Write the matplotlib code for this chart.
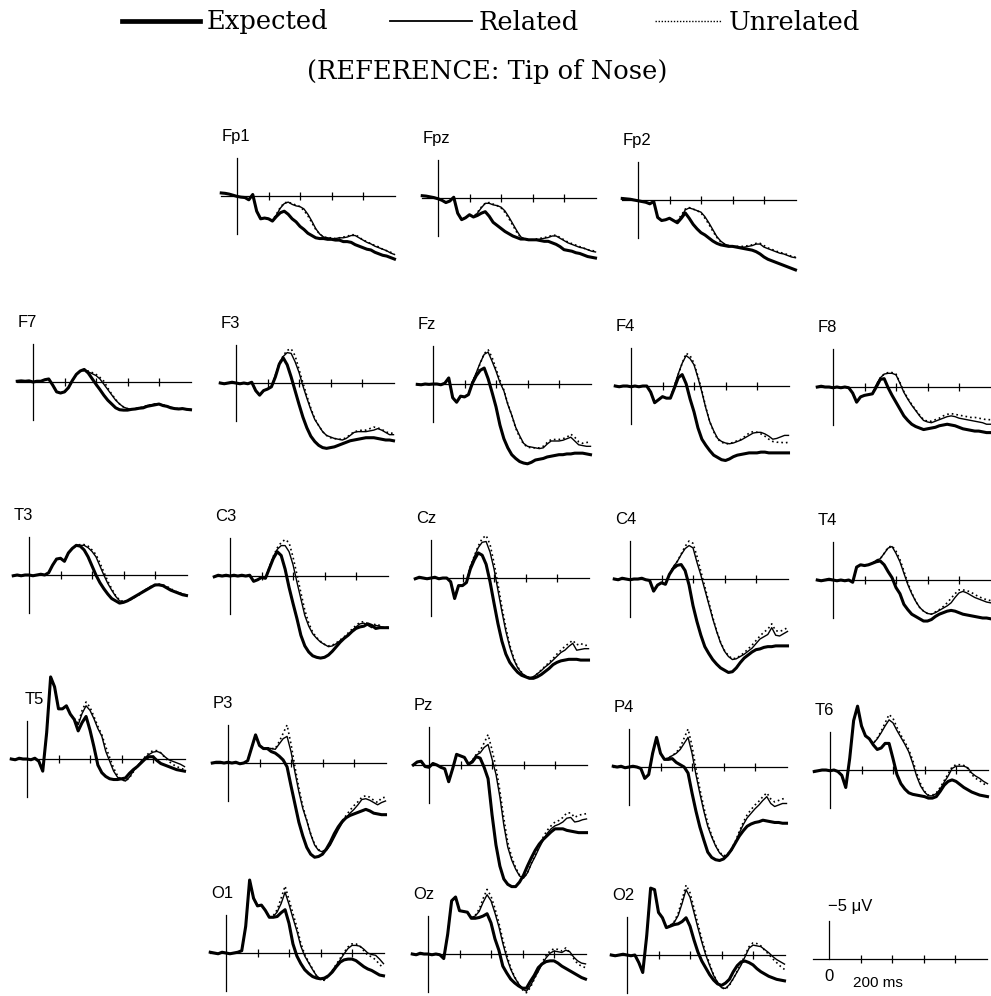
import matplotlib
matplotlib.use("Agg")
import matplotlib.pyplot as plt
from matplotlib.lines import Line2D

# sampling grid of the waveforms (ms after stimulus onset)
TIMES_MS = list(range(-100, 1001, 25))

# amplitudes in microvolts, negative plotted upward
FP1_EXP = [-0.4, -0.35, -0.25, -0.1, 0.05, 0.15, 0.2, 0.5, -0.2, 2.0,
           3.0, 2.9, 3.0, 3.3, 2.7, 2.2, 2.0, 2.4, 3.0, 3.4,
           4.0, 4.4, 4.9, 5.2, 5.5, 5.6, 5.6, 5.7, 5.7, 5.8,
           5.8, 6.0, 6.0, 6.1, 6.4, 6.6, 6.8, 7.0, 7.1, 7.4,
           7.6, 7.8, 7.9, 8.1, 8.3]
FP1_REL = [-0.4, -0.35, -0.25, -0.1, 0.05, 0.15, 0.2, 0.5, -0.2, 2.0,
           3.0, 2.9, 3.0, 3.2, 2.5, 1.6, 1.0, 0.8, 1.1, 1.3,
           1.4, 1.7, 2.4, 3.3, 4.3, 5.0, 5.4, 5.5, 5.6, 5.6,
           5.5, 5.5, 5.4, 5.2, 5.2, 5.5, 5.8, 6.1, 6.3, 6.6,
           6.8, 7.0, 7.2, 7.5, 7.7]
FP1_UNR = [-0.4, -0.3, -0.25, -0.1, 0.05, 0.15, 0.25, 0.45, -0.1, 2.0,
           3.0, 2.9, 3.0, 3.2, 2.4, 1.5, 0.9, 0.8, 1.0, 1.2,
           1.4, 1.9, 2.6, 3.5, 4.4, 5.0, 5.4, 5.5, 5.5, 5.6,
           5.5, 5.4, 5.3, 5.1, 5.1, 5.4, 5.8, 6.0, 6.3, 6.5,
           6.7, 7.0, 7.2, 7.4, 7.6]

FPZ_EXP = [-0.3, -0.25, -0.15, -0.05, 0.1, 0.3, 0.6, 0.4, -0.1, 2.0,
           2.85, 2.6, 2.2, 2.5, 2.3, 2.0, 1.8, 2.4, 3.2, 3.6,
           4.0, 4.4, 4.7, 5.0, 5.2, 5.4, 5.4, 5.5, 5.5, 5.5,
           5.6, 5.7, 5.7, 5.9, 6.1, 6.4, 6.8, 6.9, 7.0, 7.2,
           7.3, 7.5, 7.7, 7.8, 7.9]
FPZ_REL = [-0.3, -0.25, -0.15, -0.05, 0.1, 0.3, 0.6, 0.4, -0.1, 2.0,
           2.85, 2.6, 2.2, 2.5, 2.0, 1.3, 0.7, 0.7, 0.9, 1.0,
           1.2, 1.7, 2.5, 3.4, 4.3, 5.1, 5.4, 5.5, 5.5, 5.5,
           5.4, 5.3, 5.2, 5.0, 5.0, 5.3, 5.6, 5.9, 6.1, 6.3,
           6.5, 6.6, 6.8, 7.0, 7.1]
FPZ_UNR = [-0.3, -0.25, -0.15, -0.05, 0.1, 0.3, 0.6, 0.4, -0.1, 2.0,
           2.85, 2.6, 2.2, 2.5, 1.9, 1.2, 0.7, 0.6, 0.8, 1.0,
           1.3, 1.9, 2.7, 3.6, 4.5, 5.2, 5.4, 5.5, 5.5, 5.4,
           5.3, 5.2, 5.1, 4.9, 4.9, 5.2, 5.5, 5.8, 6.0, 6.2,
           6.4, 6.6, 6.8, 6.9, 7.0]

FP2_EXP = [-0.2, -0.15, -0.1, 0.0, 0.1, 0.2, 0.3, 0.5, 0.2, 2.3,
           2.7, 2.6, 2.4, 2.7, 3.0, 2.4, 1.7, 2.4, 3.2, 3.8,
           4.3, 4.6, 5.0, 5.4, 5.7, 5.9, 6.0, 6.1, 6.1, 6.2,
           6.3, 6.4, 6.5, 6.6, 6.8, 7.1, 7.5, 7.8, 8.0, 8.2,
           8.4, 8.6, 8.8, 9.0, 9.2]
FP2_REL = [-0.2, -0.15, -0.1, 0.0, 0.1, 0.2, 0.3, 0.5, 0.2, 2.3,
           2.7, 2.6, 2.4, 2.7, 2.8, 2.2, 1.3, 1.05, 1.2, 1.4,
           1.6, 2.2, 3.0, 3.9, 4.8, 5.4, 5.8, 6.0, 6.1, 6.1,
           6.2, 6.2, 6.1, 6.0, 5.8, 5.8, 6.2, 6.4, 6.6, 6.8,
           7.0, 7.1, 7.3, 7.5, 7.6]
FP2_UNR = [-0.2, -0.15, -0.1, 0.0, 0.1, 0.2, 0.3, 0.5, 0.2, 2.3,
           2.7, 2.6, 2.4, 2.7, 2.7, 2.0, 1.2, 1.0, 1.2, 1.4,
           1.7, 2.4, 3.2, 4.1, 4.9, 5.5, 5.8, 6.0, 6.1, 6.1,
           6.1, 6.1, 6.0, 5.9, 5.7, 5.7, 6.0, 6.3, 6.5, 6.7,
           6.9, 7.0, 7.2, 7.4, 7.5]

F7_EXP = [-0.1, -0.15, -0.1, -0.15, 0.0, -0.1, -0.1, -0.3, -0.4, 0.4,
          1.3, 1.45, 1.3, 0.75, -0.2, -1.0, -1.45, -1.65, -1.2, -0.45,
          0.3, 1.0, 1.75, 2.4, 2.9, 3.4, 3.65, 3.7, 3.7, 3.6,
          3.55, 3.45, 3.4, 3.2, 3.1, 3.0, 2.9, 3.1, 3.2, 3.4,
          3.5, 3.55, 3.5, 3.6, 3.65]
F7_REL = [-0.1, -0.15, -0.1, -0.15, 0.0, -0.1, -0.1, -0.3, -0.4, 0.4,
          1.3, 1.45, 1.3, 0.75, -0.2, -1.0, -1.45, -1.6, -1.35, -1.1,
          -0.85, -0.4, 0.3, 1.0, 1.7, 2.4, 2.9, 3.3, 3.5, 3.6,
          3.5, 3.4, 3.3, 3.1, 3.0, 2.9, 2.9, 3.0, 3.2, 3.3,
          3.5, 3.5, 3.5, 3.6, 3.6]
F7_UNR = [-0.1, -0.15, -0.1, -0.15, 0.0, -0.1, -0.1, -0.3, -0.4, 0.4,
          1.3, 1.45, 1.3, 0.75, -0.2, -1.0, -1.4, -1.5, -1.45, -1.25,
          -1.0, -0.6, -0.1, 0.8, 1.6, 2.3, 2.9, 3.3, 3.5, 3.6,
          3.5, 3.4, 3.3, 3.1, 3.0, 2.9, 2.9, 3.0, 3.2, 3.3,
          3.5, 3.5, 3.5, 3.6, 3.6]

F3_EXP = [0.0, 0.1, 0.0, -0.1, 0.0, 0.1, 0.0, 0.1, -0.1, 1.0,
          1.6, 1.0, 0.8, 0.5, -0.8, -2.5, -3.3, -2.4, -0.8, 1.0,
          2.8, 4.5, 5.9, 7.0, 7.7, 8.2, 8.5, 8.6, 8.5, 8.4,
          8.2, 8.0, 7.8, 7.6, 7.5, 7.4, 7.3, 7.2, 7.2, 7.2,
          7.3, 7.4, 7.5, 7.5, 7.6]
F3_REL = [0.0, 0.1, 0.0, -0.1, 0.0, 0.1, 0.0, 0.1, -0.1, 1.0,
          1.6, 1.0, 0.8, 0.5, -1.0, -2.6, -3.5, -4.0, -3.9, -2.8,
          -1.4, 0.4, 2.0, 3.5, 4.8, 5.6, 6.4, 6.9, 7.1, 7.3,
          7.4, 7.5, 7.3, 6.9, 6.5, 6.4, 6.4, 6.4, 6.3, 6.2,
          6.0, 6.2, 6.5, 6.8, 6.8]
F3_UNR = [0.0, 0.1, 0.0, -0.1, 0.0, 0.1, 0.0, 0.1, -0.1, 1.0,
          1.6, 1.0, 0.8, 0.5, -1.0, -2.6, -3.6, -4.3, -4.5, -3.6,
          -1.8, 0.0, 1.7, 3.3, 4.7, 5.6, 6.4, 6.9, 7.2, 7.3,
          7.4, 7.4, 7.2, 6.8, 6.4, 6.3, 6.2, 6.2, 6.0, 5.8,
          5.9, 6.1, 6.4, 6.6, 6.6]

FZ_EXP = [0.05, 0.1, 0.0, 0.05, 0.0, 0.0, 0.1, -0.1, -0.8, 1.8,
          2.4, 1.6, 1.7, 1.4, -0.1, -1.1, -1.8, -2.1, -0.7, 1.1,
          3.0, 5.4, 7.2, 8.4, 9.3, 9.8, 10.2, 10.4, 10.5, 10.3,
          10.0, 9.9, 9.8, 9.6, 9.5, 9.4, 9.3, 9.3, 9.2, 9.2,
          9.1, 9.1, 9.1, 9.2, 9.3]
FZ_REL = [0.05, 0.1, 0.0, 0.05, 0.0, 0.0, 0.1, -0.1, -0.8, 1.8,
          2.4, 1.6, 1.7, 1.4, -0.3, -1.5, -2.8, -3.9, -4.2, -3.0,
          -1.7, -0.2, 0.9, 2.7, 4.1, 5.7, 6.8, 7.8, 8.2, 8.3,
          8.4, 8.5, 8.4, 7.9, 7.5, 7.5, 7.5, 7.4, 7.2, 7.0,
          7.5, 8.0, 8.1, 8.2, 8.2]
FZ_UNR = [0.05, 0.1, 0.0, 0.05, 0.0, 0.0, 0.1, -0.1, -0.8, 1.8,
          2.4, 1.6, 1.7, 1.4, -0.3, -1.4, -2.7, -4.0, -4.5, -3.5,
          -2.0, -0.5, 0.8, 2.6, 4.1, 5.8, 7.0, 7.9, 8.3, 8.4,
          8.4, 8.4, 8.2, 7.7, 7.3, 7.3, 7.3, 7.2, 7.0, 6.6,
          7.0, 7.6, 7.8, 7.7, 7.6]

F4_EXP = [0.0, 0.1, 0.0, 0.0, 0.1, 0.0, 0.1, 0.0, 0.0, 0.8,
          2.2, 1.8, 1.4, 1.6, 1.6, 0.3, -1.1, -1.5, -0.3, 1.7,
          3.4, 5.5, 7.0, 7.8, 8.5, 9.1, 9.4, 9.7, 9.8, 9.6,
          9.3, 9.1, 9.0, 8.9, 8.8, 8.8, 8.8, 8.7, 8.7, 8.8,
          8.8, 8.8, 8.8, 8.8, 8.8]
F4_REL = [0.0, 0.1, 0.0, 0.0, 0.1, 0.0, 0.1, 0.0, 0.0, 0.8,
          2.2, 1.8, 1.4, 1.6, 1.6, 0.0, -1.6, -3.0, -4.0, -3.6,
          -2.8, -1.1, 0.8, 2.9, 4.7, 5.9, 6.9, 7.3, 7.5, 7.6,
          7.5, 7.3, 7.1, 6.8, 6.5, 6.2, 6.1, 6.1, 6.3, 6.6,
          7.0, 6.9, 6.7, 6.5, 6.5]
F4_UNR = [0.0, 0.1, 0.0, 0.0, 0.1, 0.0, 0.1, 0.0, 0.0, 0.8,
          2.2, 1.8, 1.4, 1.6, 1.6, 0.0, -1.5, -3.0, -4.3, -4.0,
          -3.0, -1.3, 0.6, 2.8, 4.7, 6.0, 7.0, 7.4, 7.6, 7.6,
          7.4, 7.2, 7.0, 6.6, 6.2, 6.0, 6.1, 6.3, 6.6, 7.0,
          7.3, 7.4, 7.4, 7.5, 7.4]

F8_EXP = [0.0, -0.1, 0.0, 0.0, 0.1, 0.0, 0.1, 0.0, 0.1, 0.8,
          2.0, 1.3, 1.1, 1.0, 0.9, 0.0, -1.0, -1.1, 0.1, 1.1,
          2.0, 2.9, 3.8, 4.4, 4.9, 5.2, 5.4, 5.6, 5.5, 5.4,
          5.3, 5.1, 5.0, 4.9, 5.0, 5.1, 5.3, 5.5, 5.6, 5.7,
          5.8, 5.8, 5.9, 6.0, 6.0]
F8_REL = [0.0, -0.1, 0.0, 0.0, 0.1, 0.0, 0.1, 0.0, 0.1, 0.8,
          2.0, 1.3, 1.1, 1.0, 0.9, -0.3, -1.2, -1.7, -1.8, -1.8,
          -1.6, -0.5, 0.7, 1.6, 2.4, 3.1, 3.8, 4.4, 4.6, 4.7,
          4.5, 4.3, 4.1, 3.9, 3.8, 3.9, 4.1, 4.2, 4.3, 4.4,
          4.5, 4.6, 4.7, 4.9, 4.9]
F8_UNR = [0.0, -0.1, 0.0, 0.0, 0.1, 0.0, 0.1, 0.0, 0.1, 0.8,
          2.0, 1.3, 1.1, 1.0, 0.9, -0.3, -1.2, -1.7, -1.9, -1.9,
          -1.7, -0.6, 0.6, 1.5, 2.3, 3.0, 3.7, 4.3, 4.5, 4.5,
          4.3, 4.1, 3.8, 3.6, 3.5, 3.6, 3.7, 3.8, 3.9, 4.0,
          4.0, 4.1, 4.2, 4.3, 4.3]

T3_EXP = [0.1, 0.0, 0.1, 0.0, 0.0, 0.1, 0.0, -0.1, 0.0, -0.3,
          -1.3, -2.1, -2.2, -1.8, -2.9, -3.5, -3.9, -3.8, -3.3, -2.4,
          -1.2, 0.0, 1.0, 1.8, 2.5, 3.1, 3.4, 3.7, 3.6, 3.4,
          3.1, 2.8, 2.5, 2.2, 1.9, 1.6, 1.3, 1.3, 1.4, 1.7,
          2.0, 2.2, 2.4, 2.6, 2.7]
T3_REL = [0.1, 0.0, 0.1, 0.0, 0.0, 0.1, 0.0, -0.1, 0.0, -0.3,
          -1.3, -2.1, -2.2, -1.8, -2.9, -3.5, -3.9, -3.9, -3.9, -3.6,
          -3.1, -2.4, -1.2, 0.0, 1.1, 2.0, 2.8, 3.4, 3.5, 3.4,
          3.2, 2.9, 2.5, 2.1, 1.8, 1.5, 1.4, 1.3, 1.4, 1.6,
          1.9, 2.2, 2.3, 2.5, 2.6]
T3_UNR = [0.1, 0.0, 0.1, 0.0, 0.0, 0.1, 0.0, -0.1, 0.0, -0.3,
          -1.3, -2.1, -2.2, -1.8, -2.9, -3.5, -3.9, -4.0, -4.0, -3.8,
          -3.3, -2.7, -1.6, -0.4, 0.8, 1.8, 2.7, 3.3, 3.5, 3.4,
          3.2, 2.9, 2.6, 2.2, 1.8, 1.5, 1.3, 1.2, 1.3, 1.5,
          1.8, 2.1, 2.3, 2.5, 2.7]

C3_EXP = [0.1, -0.1, 0.0, -0.1, 0.0, -0.1, 0.0, -0.1, 0.0, -0.1,
          0.7, 0.5, 0.2, 0.3, -1.0, -2.3, -3.2, -2.7, -0.9, 1.5,
          3.6, 5.6, 7.8, 9.2, 10.0, 10.5, 10.7, 10.8, 10.7, 10.4,
          9.9, 9.3, 8.7, 8.2, 7.8, 7.3, 6.9, 6.7, 6.6, 6.3,
          6.5, 6.9, 6.8, 6.8, 6.8]
C3_REL = [0.1, -0.1, 0.0, -0.1, 0.0, -0.1, 0.0, -0.1, 0.0, -0.1,
          0.7, 0.5, 0.2, 0.3, -1.2, -2.5, -3.5, -4.0, -4.0, -3.2,
          -1.5, 0.8, 3.0, 5.2, 6.6, 7.6, 8.2, 8.7, 9.0, 9.3,
          9.2, 8.9, 8.5, 8.1, 7.7, 7.2, 6.7, 6.3, 6.2, 6.5,
          6.8, 6.5, 6.6, 6.8, 6.8]
C3_UNR = [0.1, -0.1, 0.0, -0.1, 0.0, -0.1, 0.0, -0.1, 0.0, -0.1,
          0.7, 0.5, 0.2, 0.3, -1.2, -2.6, -3.7, -4.4, -4.8, -4.4,
          -2.5, -0.2, 2.2, 4.5, 6.2, 7.4, 8.1, 8.6, 9.0, 9.2,
          9.1, 8.8, 8.4, 8.0, 7.5, 7.0, 6.5, 6.1, 6.0, 6.3,
          6.6, 6.3, 6.5, 6.8, 6.7]

CZ_EXP = [0.1, -0.1, 0.0, 0.1, 0.0, -0.1, 0.1, 0.0, 0.0, 0.5,
          2.7, 1.0, 1.0, 0.6, -1.2, -2.4, -3.3, -3.0, -1.8, 0.5,
          3.3, 6.0, 8.3, 10.0, 11.1, 11.8, 12.4, 12.8, 13.0, 13.2,
          13.2, 13.0, 12.7, 12.3, 11.9, 11.4, 11.1, 10.9, 10.8, 10.7,
          10.7, 10.7, 10.8, 10.8, 10.8]
CZ_REL = [0.1, -0.1, 0.0, 0.1, 0.0, -0.1, 0.1, 0.0, 0.0, 0.5,
          2.7, 1.0, 1.0, 0.6, -1.5, -2.8, -4.0, -4.7, -4.8, -3.4,
          -1.2, 1.6, 4.4, 7.0, 9.1, 10.7, 11.8, 12.5, 12.9, 13.1,
          13.0, 12.6, 12.2, 11.7, 11.3, 10.8, 10.3, 9.8, 9.5, 9.0,
          8.6, 9.5, 9.4, 9.3, 9.3]
CZ_UNR = [0.1, -0.1, 0.0, 0.1, 0.0, -0.1, 0.1, 0.0, 0.0, 0.5,
          2.7, 1.0, 1.0, 0.6, -1.5, -2.9, -4.2, -5.2, -5.6, -4.4,
          -2.0, 0.8, 3.8, 6.5, 8.8, 10.5, 11.7, 12.4, 12.9, 13.1,
          13.0, 12.6, 12.1, 11.6, 11.1, 10.6, 10.0, 9.5, 9.0, 8.6,
          8.2, 8.8, 8.6, 8.9, 8.8]

C4_EXP = [0.0, 0.1, -0.1, 0.0, 0.1, 0.0, 0.0, -0.1, 0.1, 0.2,
          1.6, 0.8, 0.5, 0.7, -0.6, -1.4, -1.8, -1.9, -1.1, 0.8,
          3.5, 5.6, 7.4, 8.9, 9.8, 10.6, 11.2, 11.7, 12.0, 12.3,
          12.2, 11.7, 11.0, 10.4, 10.0, 9.6, 9.3, 9.2, 9.0, 8.9,
          8.9, 8.8, 8.8, 8.8, 8.8]
C4_REL = [0.0, 0.1, -0.1, 0.0, 0.1, 0.0, 0.0, -0.1, 0.1, 0.2,
          1.6, 0.8, 0.5, 0.7, -0.6, -1.6, -2.3, -3.2, -4.0, -4.4,
          -4.1, -2.2, -0.5, 1.4, 3.3, 5.2, 6.9, 8.4, 9.5, 10.2,
          10.6, 10.5, 10.2, 9.9, 9.5, 9.1, 8.5, 7.9, 7.6, 7.3,
          6.4, 7.4, 7.5, 7.2, 6.9]
C4_UNR = [0.0, 0.1, -0.1, 0.0, 0.1, 0.0, 0.0, -0.1, 0.1, 0.2,
          1.6, 0.8, 0.5, 0.7, -0.6, -1.6, -2.3, -3.3, -4.3, -5.0,
          -4.7, -3.0, -1.0, 1.0, 3.0, 5.0, 6.8, 8.3, 9.4, 10.1,
          10.5, 10.4, 10.1, 9.7, 9.2, 8.7, 8.1, 7.5, 7.0, 6.6,
          5.9, 6.8, 6.9, 6.7, 6.4]

T4_EXP = [0.0, 0.1, 0.0, -0.1, 0.0, 0.1, 0.0, 0.1, 0.0, 0.3,
          -1.7, -2.0, -1.9, -2.0, -2.2, -2.4, -2.5, -2.0, -1.1, -0.3,
          1.0, 1.8, 3.2, 3.9, 4.5, 4.8, 5.1, 5.4, 5.4, 5.2,
          4.8, 4.5, 4.3, 4.1, 4.0, 4.1, 4.3, 4.5, 4.6, 4.7,
          4.8, 4.9, 5.0, 5.0, 5.1]
T4_REL = [0.0, 0.1, 0.0, -0.1, 0.0, 0.1, 0.0, 0.1, 0.0, 0.3,
          -1.7, -2.0, -1.9, -2.0, -2.2, -2.6, -2.8, -3.5, -4.2, -4.4,
          -3.5, -2.4, -0.9, 0.6, 1.8, 2.8, 3.6, 4.1, 4.4, 4.5,
          4.3, 4.0, 3.7, 3.4, 3.0, 2.3, 1.7, 1.5, 1.7, 2.0,
          2.3, 2.5, 2.7, 2.9, 3.0]
T4_UNR = [0.0, 0.1, 0.0, -0.1, 0.0, 0.1, 0.0, 0.1, 0.0, 0.3,
          -1.7, -2.0, -1.9, -2.0, -2.2, -2.6, -2.8, -3.5, -4.3, -4.5,
          -3.8, -2.7, -1.2, 0.4, 1.7, 2.8, 3.6, 4.1, 4.4, 4.5,
          4.2, 3.9, 3.5, 3.0, 2.4, 1.8, 1.3, 1.3, 1.4, 1.6,
          1.9, 2.2, 2.4, 2.6, 2.7]

T5_EXP = [0.0, 0.1, -0.1, 0.0, 0.0, 0.1, -0.1, 0.3, 1.6, -3.5,
          -10.8, -9.5, -6.6, -6.6, -7.0, -5.9, -5.2, -3.7, -4.8, -5.6,
          -3.8, -1.6, 0.8, 1.8, 2.3, 2.6, 2.7, 2.7, 2.6, 2.5,
          1.9, 1.4, 1.0, 0.5, 0.0, -0.3, -0.3, 0.2, 0.6, 0.8,
          1.0, 1.2, 1.4, 1.5, 1.6]
T5_REL = [0.0, 0.1, -0.1, 0.0, 0.0, 0.1, -0.1, 0.3, 1.6, -3.5,
          -10.8, -9.5, -6.6, -6.6, -7.0, -5.9, -5.2, -4.5, -6.0, -7.0,
          -6.4, -5.3, -4.0, -3.0, -1.0, 0.3, 1.6, 2.4, 2.7, 2.9,
          2.4, 1.6, 1.0, 0.3, -0.2, -0.6, -0.9, -1.0, -0.8, -0.3,
          0.1, 0.3, 0.5, 0.7, 1.0]
T5_UNR = [0.0, 0.1, -0.1, 0.0, 0.0, 0.1, -0.1, 0.3, 1.6, -3.5,
          -10.8, -9.5, -6.6, -6.6, -7.0, -5.9, -5.3, -4.7, -6.4, -7.5,
          -6.8, -5.6, -4.3, -3.2, -1.6, -0.2, 1.2, 2.2, 2.7, 2.9,
          2.5, 1.7, 1.0, 0.3, -0.3, -0.8, -1.1, -1.1, -0.8, -0.2,
          0.3, 0.7, 1.0, 1.2, 1.4]

P3_EXP = [0.0, -0.1, -0.1, 0.0, -0.1, 0.0, -0.1, 0.1, 0.0, -0.3,
          -2.0, -3.7, -2.3, -1.9, -1.9, -1.5, -1.3, -0.9, -0.4, 0.5,
          3.0, 5.4, 7.8, 9.6, 11.1, 12.0, 12.4, 12.3, 12.0, 11.3,
          10.4, 9.3, 8.4, 7.7, 7.2, 6.9, 6.7, 6.5, 6.3, 6.1,
          6.3, 6.6, 6.7, 6.8, 6.8]
P3_REL = [0.0, -0.1, -0.1, 0.0, -0.1, 0.0, -0.1, 0.1, 0.0, -0.3,
          -2.0, -3.7, -2.3, -1.9, -2.0, -1.9, -1.8, -2.5, -3.2, -3.5,
          -1.5, 1.2, 3.8, 6.0, 7.6, 9.4, 10.8, 11.5, 11.7, 11.5,
          10.8, 9.8, 8.8, 7.9, 7.2, 6.6, 6.1, 5.5, 4.8, 4.7,
          4.9, 5.2, 5.5, 5.2, 5.0]
P3_UNR = [0.0, -0.1, -0.1, 0.0, -0.1, 0.0, -0.1, 0.1, 0.0, -0.3,
          -2.0, -3.7, -2.3, -1.9, -2.0, -1.9, -1.9, -2.8, -3.9, -5.0,
          -2.5, 0.5, 3.3, 5.7, 7.5, 9.3, 10.7, 11.4, 11.6, 11.4,
          10.6, 9.6, 8.6, 7.6, 6.9, 6.2, 5.6, 5.1, 4.5, 4.3,
          4.5, 4.9, 5.2, 4.6, 4.5]

PZ_EXP = [0.0, -0.4, -0.5, 0.2, 0.3, -0.2, 0.0, 0.3, 0.5, 2.2,
          0.5, -1.4, -1.2, -1.0, -0.1, -0.4, -1.1, -0.9, 0.3, 1.8,
          6.5, 10.5, 13.3, 15.0, 15.7, 16.0, 16.0, 15.4, 14.5, 13.3,
          12.2, 11.2, 10.4, 9.8, 9.3, 8.8, 8.4, 8.4, 8.4, 8.6,
          8.7, 8.8, 8.9, 8.9, 8.9]
PZ_REL = [0.0, -0.4, -0.5, 0.2, 0.3, -0.2, 0.0, 0.3, 0.5, 2.2,
          0.5, -1.4, -1.2, -1.0, -0.1, -0.6, -1.3, -1.6, -2.3, -2.7,
          -0.8, 1.2, 4.2, 7.9, 10.8, 12.5, 13.7, 14.6, 14.9, 14.2,
          13.0, 12.0, 10.9, 9.9, 9.0, 8.4, 8.0, 7.8, 7.5, 7.0,
          6.9, 7.5, 7.4, 7.2, 7.1]
PZ_UNR = [0.0, -0.4, -0.5, 0.2, 0.3, -0.2, 0.0, 0.3, 0.5, 2.2,
          0.5, -1.4, -1.2, -1.0, -0.1, -0.6, -1.4, -1.9, -2.9, -4.0,
          -2.0, 0.3, 3.4, 7.0, 10.2, 12.1, 13.5, 14.5, 14.9, 14.2,
          12.9, 11.8, 10.6, 9.5, 8.6, 8.0, 7.5, 7.3, 6.9, 6.3,
          6.3, 6.9, 6.6, 6.5, 6.4]

P4_EXP = [-0.1, 0.0, -0.1, 0.1, 0.0, -0.1, 0.0, 0.2, 1.5, 1.0,
          -1.8, -3.9, -1.8, -1.0, -1.0, -1.1, -0.6, -0.3, 0.0, 0.8,
          3.4, 5.8, 7.9, 9.6, 11.2, 11.9, 12.2, 12.3, 12.1, 11.6,
          10.9, 10.0, 9.1, 8.4, 7.8, 7.5, 7.3, 7.2, 7.0, 7.1,
          7.2, 7.3, 7.3, 7.4, 7.4]
P4_REL = [-0.1, 0.0, -0.1, 0.1, 0.0, -0.1, 0.0, 0.2, 1.5, 1.0,
          -1.8, -3.9, -1.8, -1.0, -1.2, -1.5, -1.8, -2.3, -3.1, -3.9,
          -1.8, 1.0, 3.5, 5.8, 7.8, 9.2, 10.4, 11.3, 11.8, 11.6,
          11.0, 10.0, 8.7, 7.6, 6.7, 6.1, 5.5, 5.0, 4.4, 3.9,
          4.8, 5.2, 5.0, 4.8, 4.8]
P4_UNR = [-0.1, 0.0, -0.1, 0.1, 0.0, -0.1, 0.0, 0.2, 1.5, 1.0,
          -1.8, -3.9, -1.8, -1.0, -1.2, -1.5, -1.9, -2.6, -3.8, -5.0,
          -2.8, 0.2, 2.9, 5.3, 7.4, 9.0, 10.3, 11.2, 11.7, 11.5,
          10.8, 9.8, 8.5, 7.3, 6.3, 5.6, 5.0, 4.5, 3.9, 3.4,
          4.2, 4.6, 4.4, 4.2, 4.1]

T6_EXP = [0.2, 0.1, 0.0, 0.0, 0.1, 0.0, 0.2, 0.7, 2.3, -1.5,
          -6.5, -8.4, -5.8, -4.5, -4.1, -3.3, -2.7, -2.9, -3.5, -3.5,
          -1.5, 0.6, 1.8, 2.5, 3.0, 3.2, 3.3, 3.4, 3.5, 3.7,
          3.7, 3.5, 2.8, 2.0, 1.5, 1.3, 1.5, 1.9, 2.3, 2.6,
          2.9, 3.1, 3.3, 3.4, 3.5]
T6_REL = [0.2, 0.1, 0.0, 0.0, 0.1, 0.0, 0.2, 0.7, 2.3, -1.5,
          -6.5, -8.4, -5.8, -4.5, -4.1, -3.5, -4.1, -4.9, -5.8, -6.6,
          -6.2, -5.2, -4.3, -3.4, -2.4, -0.9, 0.8, 2.1, 2.9, 3.4,
          3.4, 3.1, 2.5, 1.6, 0.8, -0.2, -0.5, -0.5, -0.5, -0.3,
          0.4, 0.8, 1.1, 1.5, 1.8]
T6_UNR = [0.2, 0.1, 0.0, 0.0, 0.1, 0.0, 0.2, 0.7, 2.3, -1.5,
          -6.5, -8.4, -5.8, -4.5, -4.1, -3.5, -4.2, -5.1, -6.2, -7.3,
          -6.8, -5.6, -4.6, -3.7, -2.7, -1.3, 0.4, 1.8, 2.8, 3.3,
          3.3, 3.0, 2.3, 1.4, 0.5, -0.4, -0.7, -0.7, -0.6, -0.2,
          0.6, 1.1, 1.4, 1.8, 2.1]

O1_EXP = [-0.1, 0.0, 0.1, -0.1, 0.0, 0.1, 0.0, -0.1, -0.3, -3.5,
          -9.6, -7.2, -6.2, -6.3, -5.6, -4.7, -4.7, -4.8, -5.3, -5.7,
          -3.9, -1.2, 0.4, 1.4, 2.2, 2.7, 3.1, 3.3, 3.4, 3.3,
          3.0, 2.5, 1.8, 1.2, 0.9, 0.8, 0.8, 1.0, 1.4, 1.8,
          2.1, 2.3, 2.6, 2.9, 3.0]
O1_REL = [-0.1, 0.0, 0.1, -0.1, 0.0, 0.1, 0.0, -0.1, -0.3, -3.5,
          -9.6, -7.2, -6.2, -6.3, -5.6, -4.7, -4.8, -5.4, -6.5, -8.0,
          -6.4, -4.6, -2.9, -0.9, 0.4, 1.3, 2.2, 3.0, 3.4, 3.5,
          3.0, 2.3, 1.6, 0.9, 0.1, -0.6, -1.0, -1.0, -0.9, -0.5,
          0.0, 0.2, 0.3, 0.8, 1.4]
O1_UNR = [-0.1, 0.0, 0.1, -0.1, 0.0, 0.1, 0.0, -0.1, -0.3, -3.5,
          -9.6, -7.2, -6.2, -6.3, -5.6, -4.7, -4.9, -5.7, -7.2, -8.8,
          -7.0, -5.2, -3.4, -1.3, 0.2, 1.2, 2.1, 3.0, 3.5, 3.6,
          3.1, 2.3, 1.5, 0.7, -0.1, -0.8, -1.2, -1.2, -0.9, -0.3,
          0.3, 0.5, 0.9, 1.5, 2.0]

OZ_EXP = [0.0, 0.1, -0.1, 0.0, 0.0, 0.1, 0.0, 0.1, 0.6, -2.6,
          -7.0, -7.5, -5.7, -5.6, -5.5, -4.7, -4.7, -4.8, -5.0, -5.3,
          -4.1, -2.0, -0.5, 1.6, 2.5, 3.3, 3.8, 4.2, 4.5, 4.5,
          3.6, 2.8, 1.8, 1.3, 1.0, 0.9, 0.9, 1.2, 1.6, 1.9,
          2.2, 2.5, 2.8, 3.1, 3.3]
OZ_REL = [0.0, 0.1, -0.1, 0.0, 0.0, 0.1, 0.0, 0.1, 0.6, -2.6,
          -7.0, -7.5, -5.7, -5.6, -5.5, -4.8, -5.0, -5.6, -6.8, -7.8,
          -7.0, -5.4, -3.6, -1.4, 0.5, 2.0, 3.1, 3.9, 4.6, 4.9,
          4.2, 3.2, 2.3, 1.3, 0.5, -0.1, -0.4, -0.3, -0.2, -0.5,
          -0.3, 0.4, 0.9, 1.2, 1.3]
OZ_UNR = [0.0, 0.1, -0.1, 0.0, 0.0, 0.1, 0.0, 0.1, 0.6, -2.6,
          -7.0, -7.5, -5.7, -5.6, -5.5, -4.8, -5.1, -5.9, -7.3, -8.5,
          -7.6, -6.0, -4.1, -1.9, 0.1, 1.8, 3.0, 3.9, 4.7, 5.1,
          4.4, 3.3, 2.2, 1.1, 0.2, -0.4, -0.7, -0.6, -0.4, -0.8,
          -0.2, 0.6, 1.3, 1.6, 1.8]

O2_EXP = [0.0, 0.1, 0.0, -0.1, 0.0, 0.1, 0.0, 1.0, 2.3, -2.5,
          -8.8, -8.6, -5.6, -4.9, -3.6, -3.8, -4.0, -4.1, -4.4, -4.9,
          -3.8, -2.0, -0.4, 0.8, 1.7, 2.6, 3.3, 3.8, 4.0, 3.7,
          3.2, 2.2, 1.4, 0.9, 0.8, 1.0, 1.3, 1.8, 2.2, 2.5,
          2.8, 3.0, 3.2, 3.3, 3.4]
O2_REL = [0.0, 0.1, 0.0, -0.1, 0.0, 0.1, 0.0, 1.0, 2.3, -2.5,
          -8.8, -8.6, -5.6, -4.9, -3.6, -3.9, -4.3, -5.2, -6.8, -8.6,
          -7.6, -5.6, -3.6, -1.7, 0.0, 1.4, 2.7, 3.6, 4.3, 4.4,
          3.9, 3.1, 2.2, 1.3, 0.2, -0.9, -1.3, -1.2, -1.1, -0.7,
          -0.3, 0.2, 0.6, 0.9, 1.2]
O2_UNR = [0.0, 0.1, 0.0, -0.1, 0.0, 0.1, 0.0, 1.0, 2.3, -2.5,
          -8.8, -8.6, -5.6, -4.9, -3.6, -3.9, -4.4, -5.5, -7.3, -9.2,
          -8.2, -6.2, -4.1, -2.1, -0.3, 1.2, 2.6, 3.6, 4.3, 4.5,
          4.0, 3.1, 2.1, 1.1, 0.0, -1.1, -1.6, -1.5, -1.2, -0.6,
          -0.1, 0.5, 1.0, 1.5, 1.9]

CONDITIONS = ["Expected", "Related", "Unrelated"]

# electrode name, series, onset/zero position in canvas pixels, label x-offset (px)
PANELS = [
    ("Fp1", FP1_EXP, FP1_REL, FP1_UNR, 237, 196, -15),
    ("Fpz", FPZ_EXP, FPZ_REL, FPZ_UNR, 438, 198, -15),
    ("Fp2", FP2_EXP, FP2_REL, FP2_UNR, 638, 200, -15),
    ("F7", F7_EXP, F7_REL, F7_UNR, 33, 382, -15),
    ("F3", F3_EXP, F3_REL, F3_UNR, 236, 383, -15),
    ("Fz", FZ_EXP, FZ_REL, FZ_UNR, 433, 384, -15),
    ("F4", F4_EXP, F4_REL, F4_UNR, 631, 386, -15),
    ("F8", F8_EXP, F8_REL, F8_UNR, 833, 387, -15),
    ("T3", T3_EXP, T3_REL, T3_UNR, 29, 575, -15),
    ("C3", C3_EXP, C3_REL, C3_UNR, 230, 576, -15),
    ("Cz", CZ_EXP, CZ_REL, CZ_UNR, 431, 578, -15),
    ("C4", C4_EXP, C4_REL, C4_UNR, 630, 579, -15),
    ("T4", T4_EXP, T4_REL, T4_UNR, 833, 580, -15),
    ("T5", T5_EXP, T5_REL, T5_UNR, 27, 759, -2),
    ("P3", P3_EXP, P3_REL, P3_UNR, 228, 763, -15),
    ("Pz", PZ_EXP, PZ_REL, PZ_UNR, 429, 765, -15),
    ("P4", P4_EXP, P4_REL, P4_UNR, 629, 767, -15),
    ("T6", T6_EXP, T6_REL, T6_UNR, 830, 770, -15),
    ("O1", O1_EXP, O1_REL, O1_UNR, 226, 953, -15),
    ("Oz", OZ_EXP, OZ_REL, OZ_UNR, 428, 954, -15),
    ("O2", O2_EXP, O2_REL, O2_UNR, 627, 955, -15),
]
SCALE_ORIGIN = (829, 959)

# legend entries: handle start x (px), handle length (px)
LEGEND_SLOTS = [(122, 78), (390, 82), (655, 67)]

W, H = 991, 996
MS_PER_PX = 200 / 31.5
UV_PER_PX = 5 / 38
XLIM = (-150, 1050)
YLIM = (17.5, -13.0)   # negative up
LABEL_FONT = ["Liberation Sans", "DejaVu Sans"]
SERIF = ["DejaVu Serif"]
SERIF_SIZE = 18.5


def panel_axes(fig, x0, y0, vbounds=(-5, 5)):
    left = x0 + XLIM[0] / MS_PER_PX
    width = (XLIM[1] - XLIM[0]) / MS_PER_PX
    top = y0 + YLIM[1] / UV_PER_PX
    height = (YLIM[0] - YLIM[1]) / UV_PER_PX
    ax = fig.add_axes([left / W, 1 - (top + height) / H, width / W, height / H])
    ax.set_xlim(*XLIM)
    ax.set_ylim(*YLIM)
    ax.patch.set_alpha(0)
    ax.spines["top"].set_visible(False)
    ax.spines["right"].set_visible(False)
    ax.spines["left"].set_position(("data", 0))
    ax.spines["bottom"].set_position(("data", 0))
    ax.spines["left"].set_bounds(*vbounds)
    ax.spines["bottom"].set_bounds(-100, 1000)
    for s in ("left", "bottom"):
        ax.spines[s].set_linewidth(0.9)
    ax.set_xticks([200, 400, 600, 800])
    ax.set_xticklabels([])
    ax.set_yticks([])
    ax.tick_params(axis="x", direction="inout", length=6, width=0.9)
    return ax


fig = plt.figure(figsize=(W / 100, H / 100), dpi=100)

for name, exp, rel, unr, x0, y0, ldx in PANELS:
    ax = panel_axes(fig, x0, y0)
    ax.plot(TIMES_MS, unr, color="k", lw=1.2, ls=(0, (1, 1.8)))
    ax.plot(TIMES_MS, rel, color="k", lw=1.0)
    ax.plot(TIMES_MS, exp, color="k", lw=2.2)
    ax.text(ldx * MS_PER_PX, -67 * UV_PER_PX, name, ha="left", va="top",
            fontsize=12, family=LABEL_FONT)

# calibration panel
ax = panel_axes(fig, *SCALE_ORIGIN, vbounds=(-5, 0))
ax.text(-1 * MS_PER_PX, -53 * UV_PER_PX, "\u22125 \u03bcV", ha="left", va="center",
        fontsize=12, family=LABEL_FONT)
ax.text(0, 17 * UV_PER_PX, "0", ha="center", va="center", fontsize=12, family=LABEL_FONT)
ax.text(24 * MS_PER_PX, 24 * UV_PER_PX, "200 ms", ha="left", va="center",
        fontsize=11, family=LABEL_FONT)

# legend: one entry per slot so each sits where it does in the original
handles = [Line2D([], [], color="k", lw=3.4),
           Line2D([], [], color="k", lw=1.3),
           Line2D([], [], color="k", lw=1.0, ls=(0, (1, 1.2)))]
em_px = SERIF_SIZE * 100 / 72
for handle, label, (hx, hlen) in zip(handles, CONDITIONS, LEGEND_SLOTS):
    fig.legend([handle], [label], loc="center left", bbox_to_anchor=(hx / W, 1 - 22 / H),
               frameon=False, borderpad=0, borderaxespad=0,
               handlelength=hlen / em_px, handletextpad=0.25,
               prop={"family": SERIF, "size": SERIF_SIZE})
fig.text(487 / W, 1 - 71 / H, "(REFERENCE: Tip of Nose)", ha="center", va="center",
         family=SERIF, fontsize=SERIF_SIZE)

fig.savefig("out.png", dpi=100)
